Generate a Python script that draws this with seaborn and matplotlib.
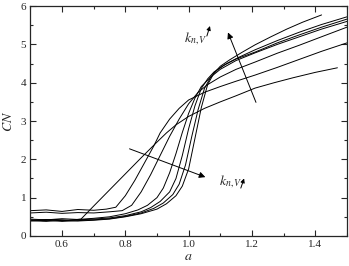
import matplotlib
matplotlib.use("Agg")
import numpy as np
import pandas as pd
import seaborn as sns
from matplotlib import pyplot as plt
from matplotlib.ticker import MultipleLocator

# curves (a, CN), earliest transition first
c1_a = [0.50, 0.54, 0.58, 0.62, 0.66, 0.70, 0.75, 0.80, 0.85, 0.90, 0.93, 0.96, 1.00, 1.05, 1.10, 1.15, 1.21, 1.27, 1.33, 1.40, 1.47]
c1_cn = [0.42, 0.40, 0.43, 0.41, 0.44, 0.78, 1.20, 1.62, 2.04, 2.45, 2.69, 2.90, 3.12, 3.33, 3.50, 3.66, 3.86, 4.00, 4.13, 4.27, 4.39]

c2_a = [0.50, 0.55, 0.60, 0.65, 0.70, 0.74, 0.77, 0.80, 0.83, 0.86, 0.89, 0.91, 0.94, 0.97, 1.00, 1.05, 1.10, 1.15, 1.21, 1.28, 1.35, 1.42, 1.50]
c2_cn = [0.66, 0.68, 0.64, 0.69, 0.67, 0.70, 0.75, 1.05, 1.45, 1.90, 2.35, 2.69, 3.05, 3.33, 3.55, 3.75, 3.90, 4.04, 4.20, 4.40, 4.61, 4.82, 5.04]

c3_a = [0.50, 0.55, 0.60, 0.65, 0.70, 0.75, 0.79, 0.82, 0.85, 0.88, 0.91, 0.94, 0.97, 1.00, 1.03, 1.06, 1.10, 1.15, 1.21, 1.28, 1.35, 1.42, 1.50]
c3_cn = [0.60, 0.62, 0.59, 0.61, 0.60, 0.63, 0.66, 0.80, 1.15, 1.60, 2.10, 2.60, 3.05, 3.45, 3.75, 3.95, 4.15, 4.35, 4.54, 4.77, 4.98, 5.20, 5.45]

c4_a = [0.50, 0.55, 0.60, 0.65, 0.70, 0.75, 0.80, 0.84, 0.87, 0.90, 0.92, 0.94, 0.96, 0.98, 1.00, 1.02, 1.04, 1.07, 1.10, 1.15, 1.21, 1.28, 1.35, 1.42, 1.50]
c4_cn = [0.44, 0.42, 0.45, 0.43, 0.46, 0.50, 0.58, 0.68, 0.80, 1.00, 1.25, 1.65, 2.15, 2.70, 3.20, 3.60, 3.90, 4.15, 4.35, 4.58, 4.78, 5.00, 5.20, 5.40, 5.60]

c5_a = [0.50, 0.55, 0.60, 0.65, 0.70, 0.75, 0.80, 0.85, 0.88, 0.91, 0.94, 0.96, 0.98, 1.00, 1.02, 1.04, 1.06, 1.08, 1.11, 1.15, 1.21, 1.28, 1.35, 1.42, 1.50]
c5_cn = [0.41, 0.43, 0.40, 0.42, 0.44, 0.47, 0.53, 0.63, 0.74, 0.90, 1.15, 1.50, 2.10, 2.80, 3.40, 3.85, 4.10, 4.28, 4.45, 4.62, 4.80, 5.04, 5.25, 5.45, 5.66]

c6_a = [0.50, 0.55, 0.60, 0.65, 0.70, 0.75, 0.80, 0.85, 0.89, 0.92, 0.95, 0.97, 0.99, 1.01, 1.03, 1.05, 1.07, 1.09, 1.12, 1.16, 1.21, 1.28, 1.35, 1.42, 1.50]
c6_cn = [0.39, 0.41, 0.38, 0.40, 0.42, 0.45, 0.51, 0.60, 0.72, 0.86, 1.08, 1.35, 1.85, 2.60, 3.30, 3.85, 4.15, 4.33, 4.50, 4.67, 4.86, 5.10, 5.32, 5.52, 5.72]

c7_a = [0.50, 0.55, 0.60, 0.65, 0.70, 0.75, 0.80, 0.85, 0.90, 0.93, 0.96, 0.98, 1.00, 1.02, 1.04, 1.06, 1.08, 1.10, 1.13, 1.17, 1.21, 1.26, 1.31, 1.36, 1.42]
c7_cn = [0.40, 0.38, 0.41, 0.39, 0.41, 0.44, 0.50, 0.58, 0.70, 0.84, 1.05, 1.30, 1.75, 2.55, 3.35, 3.95, 4.25, 4.43, 4.60, 4.80, 4.99, 5.20, 5.40, 5.58, 5.77]

curves = [(c1_a, c1_cn), (c2_a, c2_cn), (c3_a, c3_cn), (c4_a, c4_cn),
          (c5_a, c5_cn), (c6_a, c6_cn), (c7_a, c7_cn)]

sns.set_style("ticks")
plt.rcParams["font.family"] = ["Liberation Serif", "DejaVu Serif"]
plt.rcParams["mathtext.fontset"] = "stix"

fig = plt.figure(figsize=(3.49, 2.66), dpi=100)
ax = fig.add_axes([0.087, 0.113, 0.907, 0.864])

for i, (xa, ya) in enumerate(curves):
    df = pd.DataFrame({"a": xa, "CN": ya})
    sns.lineplot(data=df, x="a", y="CN", ax=ax, color="black", lw=0.7, sort=False)

ax.set_xlim(0.5, 1.5)
ax.set_ylim(0, 6)
ax.xaxis.set_major_locator(MultipleLocator(0.2))
ax.xaxis.set_minor_locator(MultipleLocator(0.1))
ax.yaxis.set_major_locator(MultipleLocator(1))
ax.yaxis.set_minor_locator(MultipleLocator(0.5))
ax.tick_params(which="both", direction="in", top=True, right=True, labelsize=8, width=0.8, pad=3)
ax.tick_params(which="major", length=4)
ax.tick_params(which="minor", length=2)
for s in ax.spines.values():
    s.set_linewidth(0.9)
ax.set_xlabel("$a$", fontsize=10, labelpad=1)
ax.set_ylabel("$CN$", fontsize=10, labelpad=4)

# arrows
ax.annotate("", xy=(1.061, 1.51), xytext=(0.805, 2.30),
            arrowprops=dict(arrowstyle="-|>", color="black", lw=0.7, mutation_scale=9))
ax.text(1.095, 1.42, "$k_{n,V}$", fontsize=10, va="center", ha="left")
ax.annotate("", xy=(1.178, 1.57), xytext=(1.162, 1.18),
            arrowprops=dict(arrowstyle="-|>", color="black", lw=0.7, mutation_scale=6))

ax.annotate("", xy=(1.121, 5.38), xytext=(1.216, 3.42),
            arrowprops=dict(arrowstyle="-|>", color="black", lw=0.7, mutation_scale=9))
ax.text(0.985, 5.15, "$k_{n,V}$", fontsize=10, va="center", ha="left")
ax.annotate("", xy=(1.07, 5.55), xytext=(1.055, 5.15),
            arrowprops=dict(arrowstyle="-|>", color="black", lw=0.7, mutation_scale=6))

fig.savefig("out.png", dpi=100)
